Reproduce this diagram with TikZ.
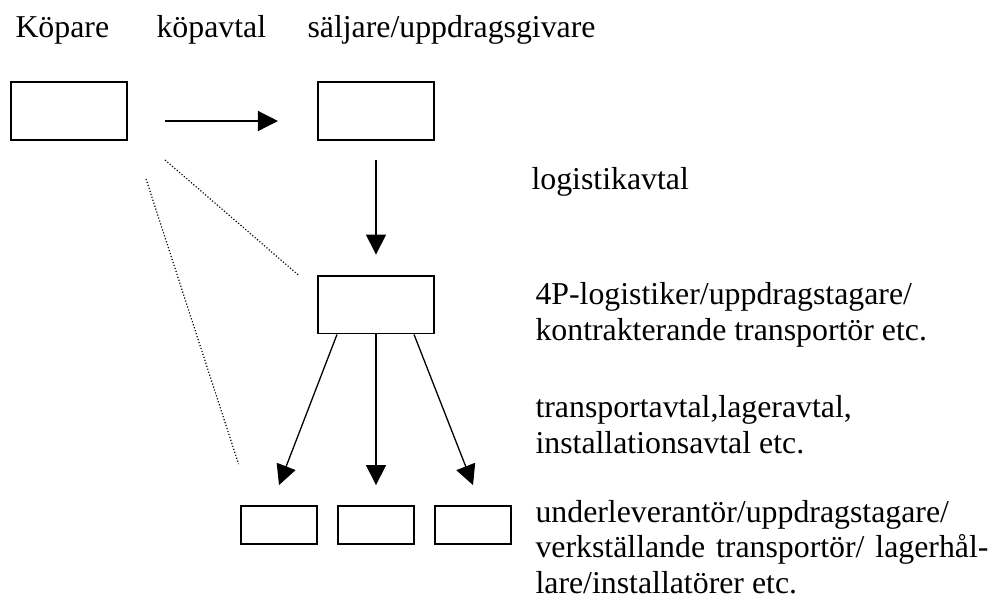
\documentclass[tikz,border=0pt]{standalone}
\usepackage{fontspec}
\setmainfont{Liberation Serif}
\usetikzlibrary{arrows.meta,positioning,calc}
\newcommand\pxu{0.385pt}

\begin{document}
\begin{tikzpicture}[
  x=\pxu, y=-\pxu,
  node distance=7pt,
  box/.style={draw,line width=0.75pt,minimum width=44.7pt,minimum height=22.3pt,inner sep=0pt},
  smallbox/.style={box,minimum width=29.6pt,minimum height=14.6pt},
  lab/.style={font=\fontsize{12.25}{13.8}\selectfont,inner sep=0pt,anchor=base west},
  arr/.style={-{Triangle[length=7.7pt,width=7.7pt]},line width=0.5pt},
  dots/.style={line width=0.45pt,dash pattern=on 0.45pt off 0.75pt}
]
\useasboundingbox (0,0) rectangle (991,604);
\node[box] (koepare) at (69,111) {};
\node[box] (saeljare) at (376,111) {};
\node[box] (logistiker) at (376,304.5) {};
\node[smallbox] (under2) at (376,525) {};
\node[smallbox,left=of under2] (under1) {};
\node[smallbox,right=of under2] (under3) {};
\node[lab] (tkoepare) at (15,37) {Köpare};
\node[lab] (tkoepavtal) at (156,37) {köpavtal};
\node[lab] (tsaeljare) at (307,37) {säljare/uppdragsgivare};
\node[lab] (tlogavtal) at (531,189) {logistikavtal};
\node[lab,align=left] (tlogistiker) at (535,340) {4P-logistiker/uppdragstagare/\\kontrakterande transportör etc.};
\node[lab,align=left] (tavtal) at (535,453) {transportavtal,lageravtal,\\installationsavtal etc.};
\node[lab,text width=174.4pt,align=justify] (tunder) at (535,522) {underleverantör/uppdragstagare/\\verkställande transportör/ lagerhål-\linebreak lare/installatörer etc.};
\draw[arr] ($(koepare.east)+(37,10)$) -- ($(saeljare.west)+(-39,10)$);
\draw[arr] ($(saeljare.south)+(0,19)$) -- ($(logistiker.north)+(0,-20)$);
\draw[arr] ($(logistiker.south)+(-39,0)$) -- ($(under1.north)+(0,-20)$);
\draw[arr] (logistiker.south) -- ($(under2.north)+(0,-20)$);
\draw[arr] ($(logistiker.south)+(38,0)$) -- ($(under3.north)+(0,-20)$);
\draw[dots] ($(koepare.south east)+(37,19)$) -- ($(logistiker.north west)+(-18,1)$);
\draw[dots] ($(koepare.south east)+(18,38)$) -- ($(under1.north west)+(-1,-41)$);
\end{tikzpicture}
\end{document}
